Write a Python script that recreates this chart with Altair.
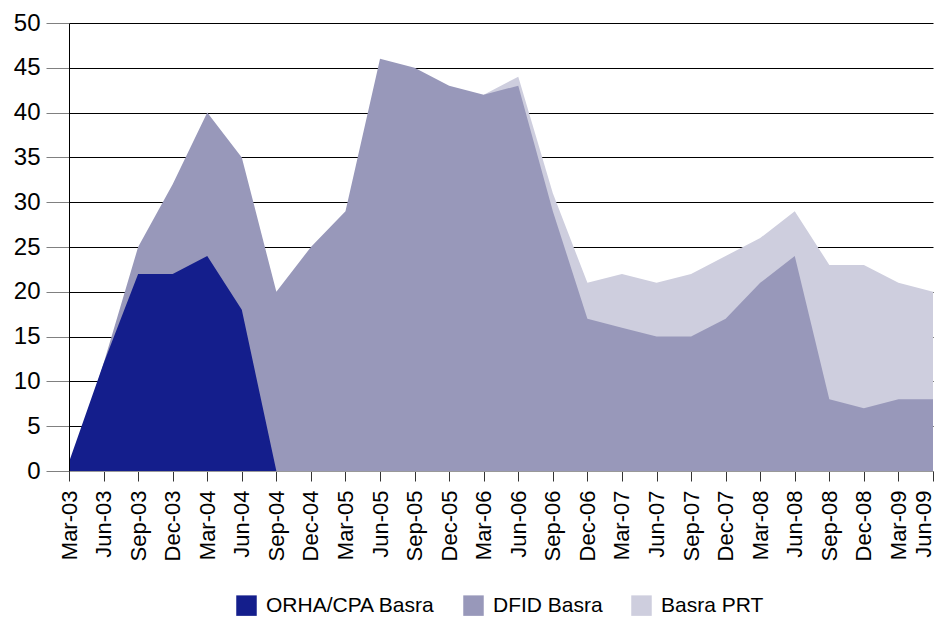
import altair as alt
import pandas as pd

quarters = ["Mar-03", "Jun-03", "Sep-03", "Dec-03", "Mar-04", "Jun-04", "Sep-04",
            "Dec-04", "Mar-05", "Jun-05", "Sep-05", "Dec-05", "Mar-06", "Jun-06",
            "Sep-06", "Dec-06", "Mar-07", "Jun-07", "Sep-07", "Dec-07", "Mar-08",
            "Jun-08", "Sep-08", "Dec-08", "Mar-09", "Jun-09"]

orha = [1, 12, 22, 22, 24, 18, 0] + [None] * 19
dfid = [0, 12, 25, 32, 40, 35, 20, 25, 29, 46, 45, 43, 42, 43,
        29, 17, 16, 15, 15, 17, 21, 24, 8, 7, 8, 8]
prt = [None] * 12 + [42, 44, 31, 21, 22, 21, 22, 24, 26, 29, 23, 23, 21, 20]

series_names = ["ORHA/CPA Basra", "DFID Basra", "Basra PRT"]
series_colors = ["#141E8C", "#9898BA", "#CECEDE"]
y_ticks = [0, 5, 10, 15, 20, 25, 30, 35, 40, 45, 50]

rows = []
for name, vals in zip(series_names, [orha, dfid, prt]):
    for q, v in zip(quarters, vals):
        if v is not None:
            rows.append({"series": name, "quarter": q, "value": v})
df = pd.DataFrame(rows)

FONT = "Liberation Sans"

x_enc = alt.X(
    "quarter:O", sort=quarters,
    scale=alt.Scale(type="point", padding=0),
    axis=alt.Axis(title=None, labelAngle=270, labelFontSize=22, labelFont=FONT,
                  labelColor="#000", tickSize=10, tickColor="#333",
                  domainColor="#999", labelPadding=9, zindex=1, grid=False,
                  labelOffset={"condition": {"test": "datum.value == 'Jun-09'",
                                             "value": -10},
                               "value": 0}),
)

color_enc = alt.Color(
    "series:N",
    scale=alt.Scale(domain=series_names, range=series_colors),
    legend=alt.Legend(orient="none", legendX=167, legendY=572, direction="horizontal",
                      title=None, symbolType="square", symbolSize=420,
                      symbolStrokeWidth=0, symbolOpacity=1, labelFontSize=21,
                      labelFont=FONT, labelColor="#000", labelOffset=9,
                      columnPadding=28, padding=0, labelLimit=400),
)

y_scale = alt.Scale(domain=[0, 50], nice=False)

base = alt.Chart(df)

prt_layer = base.transform_filter(alt.datum.series == "Basra PRT").mark_area(
    strokeWidth=0, opacity=1).encode(
    x=x_enc,
    y=alt.Y("value:Q", scale=y_scale, stack=None,
            axis=alt.Axis(orient="left", title=None, values=y_ticks, grid=True,
                          gridColor="#000", gridWidth=1, gridOpacity=1,
                          domain=False, tickSize=23, tickColor="#808080",
                          labelFontSize=24, labelFont=FONT, labelColor="#000",
                          labelPadding=6, zindex=0)),
    color=color_enc,
)

dfid_layer = base.transform_filter(alt.datum.series == "DFID Basra").mark_area(
    strokeWidth=0, opacity=1).encode(
    x=x_enc,
    y=alt.Y("value:Q", scale=y_scale, stack=None, axis=None),
    color=color_enc,
)

orha_layer = base.transform_filter(alt.datum.series == "ORHA/CPA Basra").mark_area(
    strokeWidth=0, opacity=1).encode(
    x=x_enc,
    y=alt.Y("value:Q", scale=y_scale, stack=None,
            axis=alt.Axis(orient="left", title=None, grid=False, labels=False,
                          ticks=False, domain=True, domainColor="#000",
                          domainWidth=1, zindex=1)),
    color=color_enc,
)

chart = alt.layer(prt_layer, dfid_layer, orha_layer).resolve_axis(
    y="independent"
).resolve_scale(y="shared").properties(
    width=864, height=448,
    autosize=alt.AutoSizeParams(type="none"),
    padding={"left": 61, "top": 15, "right": 3, "bottom": 146},
    background="#ffffff",
).configure_view(stroke=None)

chart.save("out.html", embed_options={"renderer": "svg", "actions": False})
